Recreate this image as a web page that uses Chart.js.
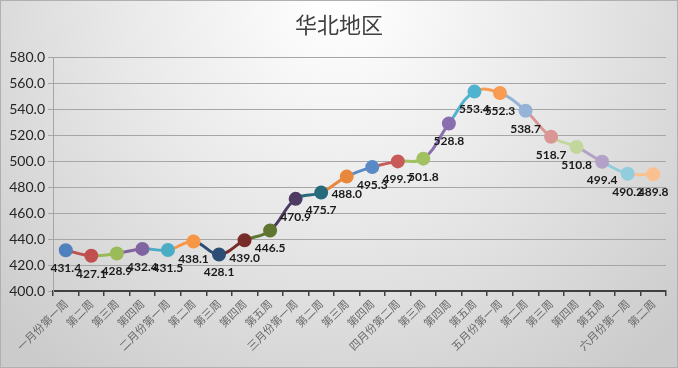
<!DOCTYPE html>
<html>
<head>
<meta charset="utf-8">
<script src="https://cdn.jsdelivr.net/npm/chart.js@4/dist/chart.umd.min.js"></script>
<style>
html,body{margin:0;padding:0;background:#fff;}
#wrap{width:678px;height:368px;position:relative;}
</style>
</head>
<body>
<div id="wrap"><canvas id="c" width="678" height="368"></canvas></div>
<script>
const title = '华北地区';
const categories = ['一月份第一周','第二周','第三周','第四周','二月份第一周','第二周','第三周','第四周','第五周','三月份第一周','第二周','第三周','第四周','四月份第二周','第三周','第四周','第五周','五月份第一周','第二周','第三周','第四周','第五周','六月份第一周','第二周'];
const values = [431.4,427.1,428.9,432.4,431.5,438.1,428.1,439.0,446.5,470.9,475.7,488.0,495.3,499.7,501.8,528.8,553.4,552.3,538.7,518.7,510.8,499.4,490.2,489.8];
const pointColors = ['#4F81BD','#C0504D','#9BBB59','#8064A2','#4BACC6','#F79646','#2C4D75','#772C2A','#5F7530','#4D3B62','#276A7C','#E9883C','#5A8AC6','#C85A57','#A2C163','#8A6FAF','#4FB3CF','#F89C53','#95B3D7','#D99694','#C3D69B','#B3A2C7','#93CDDD','#FAC090'];
const yMin = 400, yMax = 580, yStep = 20;

const bgPlugin = {
  id: 'bg',
  beforeDraw(chart) {
    const ctx = chart.ctx, w = chart.width, h = chart.height;
    ctx.save();
    const g = ctx.createRadialGradient(w/2, 0, 10, w/2, 0, 470);
    g.addColorStop(0, '#ffffff');
    g.addColorStop(0.45, '#e9e9e9');
    g.addColorStop(1, '#cbcbcb');
    ctx.fillStyle = g;
    ctx.fillRect(0, 0, w, h);
    ctx.strokeStyle = '#b0b0b0';
    ctx.lineWidth = 1;
    ctx.strokeRect(0.5, 0.5, w-1, h-1);
    ctx.fillStyle = '#404040';
    ctx.font = '22px "Noto Sans CJK SC"';
    ctx.textAlign = 'center';
    ctx.textBaseline = 'middle';
    ctx.fillText(title, w/2, 25);
    ctx.restore();
  }
};

const labelPlugin = {
  id: 'vlabels',
  afterDatasetsDraw(chart) {
    const ctx = chart.ctx;
    const meta = chart.getDatasetMeta(0);
    ctx.save();
    ctx.font = 'bold 12px Lato';
    ctx.fillStyle = '#1a1a1a';
    ctx.textAlign = 'center';
    ctx.textBaseline = 'middle';
    meta.data.forEach((pt, i) => {
      ctx.fillText(values[i].toFixed(1), pt.x, pt.y + 18);
    });
    ctx.restore();
  }
};

new Chart(document.getElementById('c'), {
  type: 'line',
  data: {
    labels: categories,
    datasets: [{
      data: values,
      borderWidth: 3,
      tension: 0.4,
      pointRadius: 5.5,
      pointHoverRadius: 5.5,
      pointBackgroundColor: pointColors,
      pointBorderColor: pointColors,
      segment: {
        borderColor: ctx => pointColors[ctx.p1DataIndex]
      }
    }]
  },
  options: {
    responsive: false,
    animation: false,
    events: [],
    layout: { padding: { top: 57, right: 12, left: 0, bottom: 0 } },
    plugins: { legend: { display: false }, title: { display: false }, tooltip: { enabled: false } },
    scales: {
      x: {
        offset: true,
        grid: { drawOnChartArea: false, drawTicks: true, tickLength: 5, color: '#404040', lineWidth: 1.5, offset: true },
        border: { color: '#404040', width: 2 },
        ticks: { maxRotation: 45, minRotation: 45, autoSkip: false, color: '#6a6a6a', font: { family: '"Noto Sans CJK SC"', size: 11 }, padding: 1 },
        afterFit(scale) { scale.height = 77; }
      },
      y: {
        min: yMin, max: yMax,
        grid: { color: '#a6a6a6', lineWidth: 1, tickLength: 5, drawTicks: true },
        border: { color: '#a6a6a6', width: 1 },
        ticks: { stepSize: yStep, color: '#262626', font: { family: 'Lato', size: 14 }, padding: 3, callback: v => v.toFixed(1) },
        afterFit(scale) { scale.width = 53; }
      }
    }
  },
  plugins: [bgPlugin, labelPlugin]
});
</script>
</body>
</html>
